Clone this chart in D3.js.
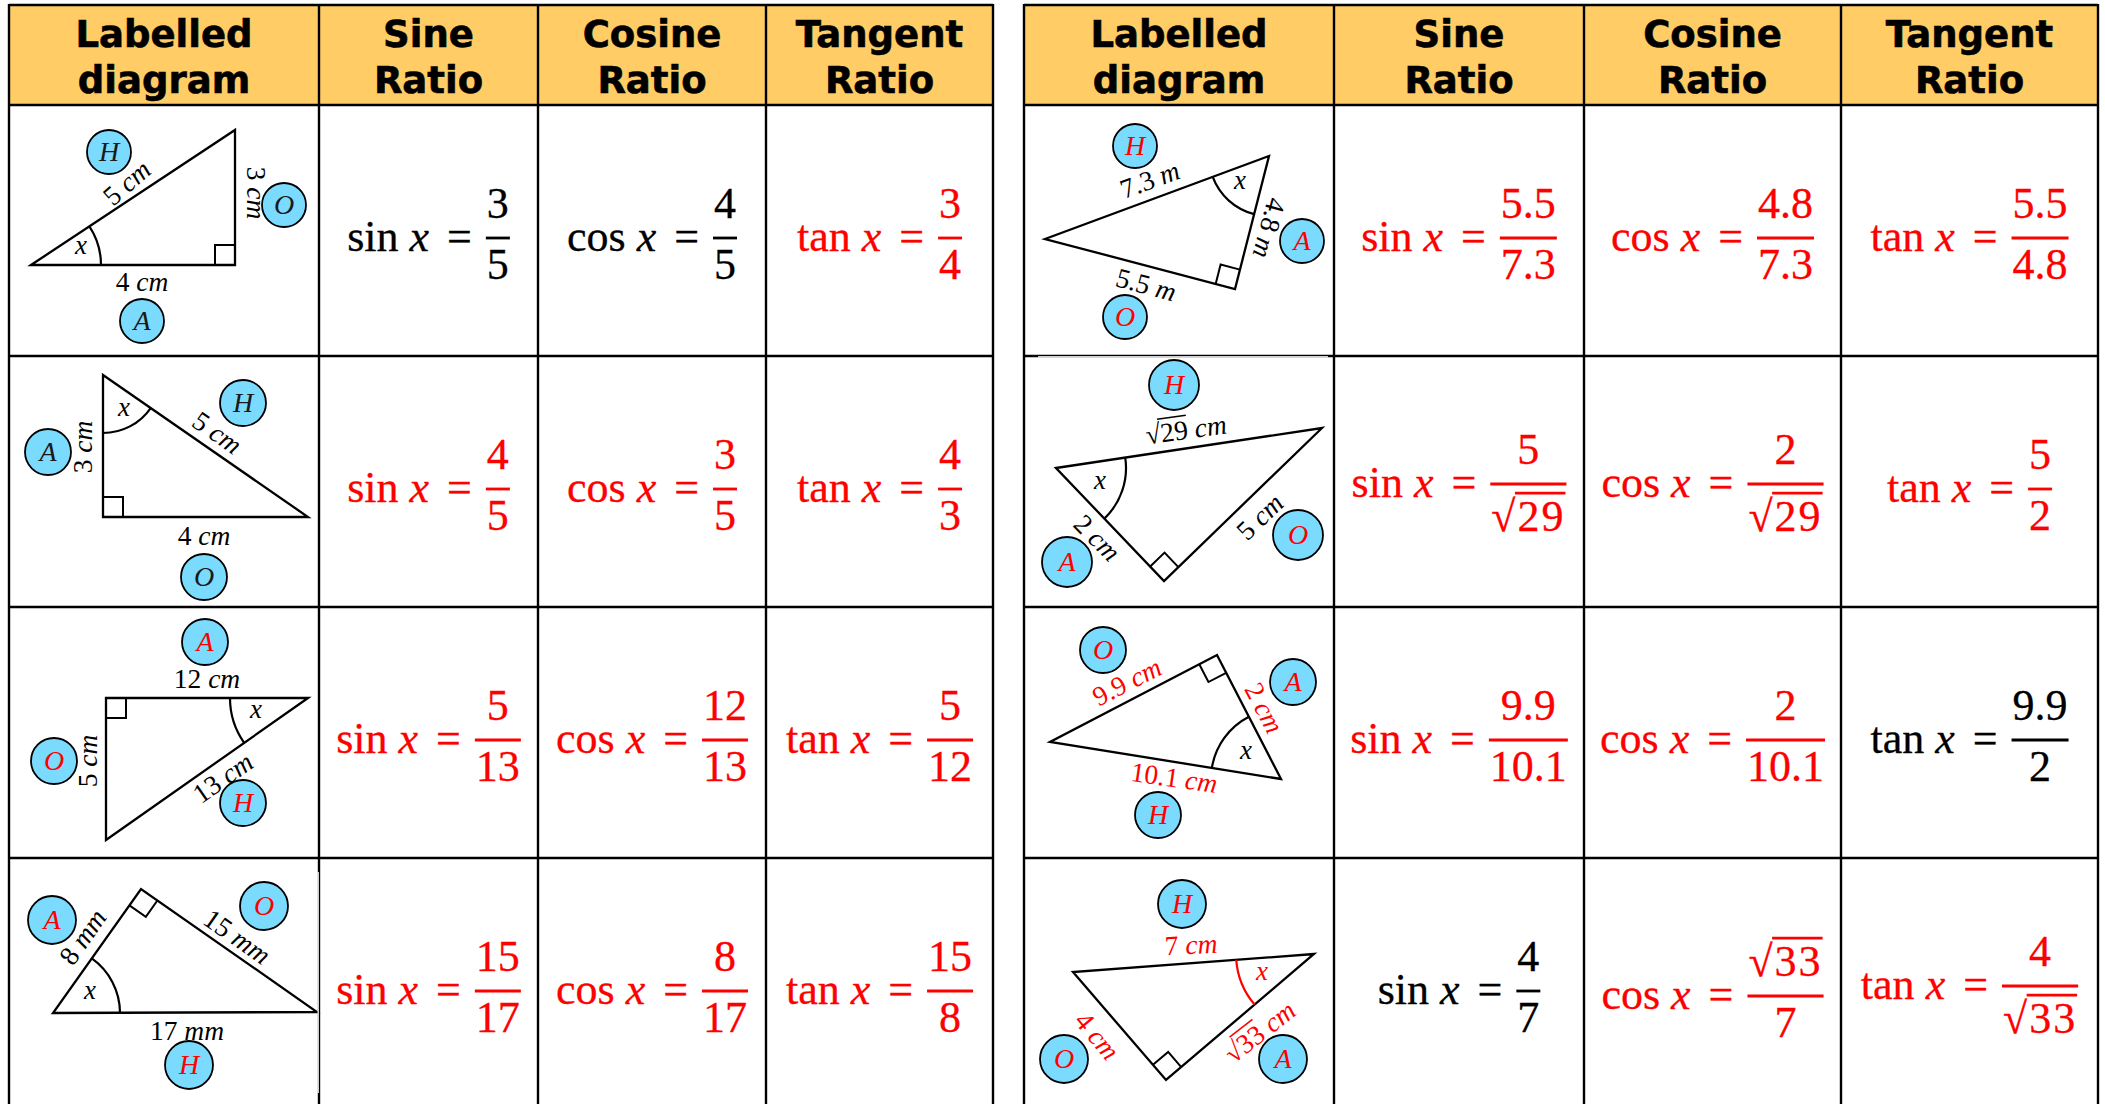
<!DOCTYPE html>
<html>
<head>
<meta charset="utf-8">
<title>Trigonometric ratios</title>
<script src="https://cdn.jsdelivr.net/npm/d3@7"></script>
<style>
    html, body { margin: 0; padding: 0; background: #fff; overflow: hidden; }
    text { white-space: pre; }
</style>
</head>
<body>
<div id="chart"></div>
<script>
const headers = [["Labelled", "diagram"], ["Sine", "Ratio"], ["Cosine", "Ratio"], ["Tangent", "Ratio"]]

// ratios, 8 triangles: left table rows then right table rows
const sinRatios = [["3", "5"], ["4", "5"], ["5", "13"], ["15", "17"], ["5.5", "7.3"], ["5", "√29"], ["9.9", "10.1"], ["4", "7"]]
const cosRatios = [["4", "5"], ["3", "5"], ["12", "13"], ["8", "17"], ["4.8", "7.3"], ["2", "√29"], ["2", "10.1"], ["√33", "7"]]
const tanRatios = [["3", "4"], ["4", "3"], ["5", "12"], ["15", "8"], ["5.5", "4.8"], ["5", "2"], ["9.9", "2"], ["4", "√33"]]
// the ones printed in black on the sheet, everything else is an answer (red)
const givenRatios = ["sin0", "cos0", "tan6", "sin7"]

// triangle corners inside a 310x251 diagram cell: [x angle, other acute, right angle]
const corners = [
    [[22, 160], [226, 25], [226, 160]],
    [[94, 19], [299, 161], [94, 161]],
    [[299, 91], [97, 233], [97, 91]],
    [[44, 155], [308, 154], [132, 31]],
    [[245, 51], [21, 134], [211, 184]],
    [[32, 112], [298, 72], [140, 225]],
    [[257, 172], [26, 135], [193, 48]],
    [[290, 96], [49, 114], [142, 222]]
]
const arcRadius = [70, 58, 78, 67, 60, 70, 70, 78]
const xMarks = [[72, 143], [115, 54], [247, 105], [81, 135], [216, 78], [76, 127], [222, 146], [238, 116]]

// side labels: [text, x, y, rotation]
const sideLabels = [
    [["5 cm", 118, 78, -41], ["3 cm", 247, 88, 90], ["4 cm", 133, 177, 0]],
    [["5 cm", 208, 77, 35], ["3 cm", 74, 91, -90], ["4 cm", 195, 180, 0]],
    [["12 cm", 198, 72, 0], ["5 cm", 79, 154, -90], ["13 cm", 214, 171, -35]],
    [["8 mm", 74, 79, -55], ["15 mm", 228, 79, 35], ["17 mm", 178, 173, 0]],
    [["7.3 m", 126, 75, -20], ["4.8 m", 245, 123, 105], ["5.5 m", 122, 180, 15]],
    [["√29 cm", 162, 74, -8], ["2 cm", 73, 182, 45], ["5 cm", 236, 161, -44]],
    [["9.9 cm", 103, 75, -27], ["2 cm", 240, 101, 62], ["10.1 cm", 150, 171, 8]],
    [["7 cm", 167, 87, -3], ["4 cm", 73, 178, 50], ["√33 cm", 236, 174, -38]]
]

// H / O / A circles
const badges = [
    [["H", 100, 47], ["O", 275, 100], ["A", 133, 216]],
    [["H", 234, 47], ["A", 39, 96], ["O", 195, 221]],
    [["A", 196, 35], ["O", 45, 154], ["H", 234, 196]],
    [["A", 43, 62], ["O", 255, 48], ["H", 180, 207]],
    [["H", 111, 41], ["O", 101, 212], ["A", 278, 136]],
    [["H", 150, 29], ["A", 43, 206], ["O", 274, 179]],
    [["O", 79, 43], ["A", 269, 75], ["H", 134, 208]],
    [["H", 158, 46], ["O", 40, 201], ["A", 259, 201]]
]
const badgeRadius = [22, 23, 23, 24, 22, 25, 23, 24]
const redBadgeText = [false, false, true, true, true, true, true, true]
const redSideText = [false, false, false, false, false, false, true, true]
const redAngle = [false, false, false, false, false, false, false, true]

const width = 2105
const height = 1104
const RED = "#ff0000"
const BLACK = "#000000"
const MATH_FONT = "'Liberation Serif', serif"

const svg = d3.select("#chart").append("svg")
    .attr("width", width)
    .attr("height", height)
    .style("display", "block")

const rowY = d3.scaleLinear().domain([0, 1, 2, 3, 4]).range([105, 356, 607, 858, 1109])
const tables = [
    d3.scaleLinear().domain([0, 1, 2, 3, 4]).range([9, 319, 538, 766, 993]),
    d3.scaleLinear().domain([0, 1, 2, 3, 4]).range([1024, 1334, 1584, 1841, 2098])
]
const line = d3.line()

function draw_grid(colX) {
    const g = svg.append("g")
    g.append("rect")
        .attr("x", colX(0)).attr("y", 5)
        .attr("width", colX(4) - colX(0)).attr("height", rowY(0) - 5)
        .attr("fill", "#ffcc66")

    // header text
    headers.forEach((lines, c) => {
        lines.forEach((t, i) => {
            g.append("text")
                .attr("x", (colX(c) + colX(c + 1)) / 2)
                .attr("y", 47 + i * 46)
                .attr("text-anchor", "middle")
                .attr("font-family", "'DejaVu Sans', sans-serif")
                .attr("font-weight", "bold")
                .attr("font-size", 37)
                .attr("fill", BLACK)
                .attr("stroke", BLACK)
                .attr("stroke-width", 0.6)
                .text(t)
        })
    })

    const gl = g.append("g").attr("stroke", BLACK).attr("stroke-width", 2.4)
    gl.selectAll(".v").data(colX.domain()).enter().append("line")
        .attr("x1", d => colX(d)).attr("x2", d => colX(d))
        .attr("y1", 4).attr("y2", height)
    gl.selectAll(".h").data([5].concat(rowY.domain().slice(0, 4).map(d => rowY(d)))).enter().append("line")
        .attr("x1", colX(0)).attr("x2", colX(4))
        .attr("y1", d => d).attr("y2", d => d)
}

// text with an optional leading root sign, the bar over the root is a line
function root_text(g, txt, x, y, size, color, anchor) {
    const hasRoot = txt[0] === "√"
    const t = g.append("text")
        .attr("x", x).attr("y", y)
        .attr("font-family", MATH_FONT)
        .attr("font-size", size)
        .attr("fill", color)
        .attr("stroke", color)
        .attr("stroke-width", 0.3)
        .attr("letter-spacing", hasRoot ? 2 : 0)
        .attr("text-anchor", anchor || "start")
        .text(txt)
    const w = t.node().getComputedTextLength()
    if (hasRoot) {
        const left = anchor === "middle" ? x - w / 2 : x
        const a = t.node().getSubStringLength(0, 1)
        g.append("line")
            .attr("x1", left + a - 2.5).attr("x2", left + w)
            .attr("y1", y - size * 0.86).attr("y2", y - size * 0.86)
            .attr("stroke", color)
            .attr("stroke-width", size * 0.06)
    }
    return w
}

function draw_ratio(colX, col, row, name, ratio, color) {
    const g = svg.append("g")
    const [num, den] = ratio
    const cx = (colX(col) + colX(col + 1)) / 2
    let barY = rowY(row) + 133
    if (den[0] === "√") barY = rowY(row) + 128
    if (num[0] === "√") barY = rowY(row) + 138

    const size = 44
    const prefix = g.append("text")
        .attr("y", barY + 13)
        .attr("font-family", MATH_FONT)
        .attr("font-size", size)
        .attr("fill", color)
        .attr("stroke", color)
        .attr("stroke-width", 0.3)
    prefix.append("tspan").text(name + " ")
    prefix.append("tspan").attr("font-style", "italic").text("x")
    prefix.append("tspan").attr("dx", 7).text(" =")
    const pw = prefix.node().getComputedTextLength() + 7

    // measure first, then centre the whole thing in the cell
    const probe = g.append("text").attr("font-family", MATH_FONT).attr("font-size", size)
    probe.attr("letter-spacing", num[0] === "√" ? 2 : 0).text(num)
    const nw = probe.node().getComputedTextLength()
    probe.attr("letter-spacing", den[0] === "√" ? 2 : 0).text(den)
    const dw = probe.node().getComputedTextLength()
    probe.remove()
    const barW = Math.max(nw, dw) + 2
    const gap = 14
    const left = cx - (pw + gap + barW) / 2
    prefix.attr("x", left)

    const fx = left + pw + gap + barW / 2
    g.append("line")
        .attr("x1", fx - barW / 2).attr("x2", fx + barW / 2)
        .attr("y1", barY).attr("y2", barY)
        .attr("stroke", color).attr("stroke-width", 2.8)
    root_text(g, num, fx, barY - 20, size, color, "middle")
    root_text(g, den, fx, barY + (den[0] === "√" ? 47 : 41), size, color, "middle")
}

function draw_diagram(colX, row, i) {
    const x = d3.scaleLinear().domain([0, 310]).range([colX(0), colX(1)])
    const y = d3.scaleLinear().domain([0, 251]).range([rowY(row), rowY(row + 1)])
    const g = svg.append("g")
    const pts = corners[i].map(p => [x(p[0]), y(p[1])])
    const [A, B, R] = pts

    const unit = (p, q) => {
        const dx = q[0] - p[0], dy = q[1] - p[1], l = Math.hypot(dx, dy)
        return [dx / l, dy / l]
    }

    g.append("path")
        .attr("d", line(pts) + "Z")
        .attr("fill", "#fff")
        .attr("stroke", BLACK)
        .attr("stroke-width", 2.3)
        .attr("stroke-linejoin", "miter")

    // right angle box
    const u = unit(R, A), v = unit(R, B), s = 20
    g.append("path")
        .attr("d", line([
            [R[0] + u[0] * s, R[1] + u[1] * s],
            [R[0] + (u[0] + v[0]) * s, R[1] + (u[1] + v[1]) * s],
            [R[0] + v[0] * s, R[1] + v[1] * s]
        ]))
        .attr("fill", "none").attr("stroke", BLACK).attr("stroke-width", 2)

    // arc for x, sweep picked from the cross product of the two sides
    const a = unit(A, B), b = unit(A, R), r = arcRadius[i]
    const sweep = a[0] * b[1] - a[1] * b[0] > 0 ? 1 : 0
    const angleColor = redAngle[i] ? RED : BLACK
    g.append("path")
        .attr("d", "M" + (A[0] + a[0] * r) + "," + (A[1] + a[1] * r) +
            "A" + r + "," + r + " 0 0 " + sweep + " " + (A[0] + b[0] * r) + "," + (A[1] + b[1] * r))
        .attr("fill", "none")
        .attr("stroke", angleColor)
        .attr("stroke-width", 2.2)
    g.append("text")
        .attr("x", x(xMarks[i][0])).attr("y", y(xMarks[i][1]) + 6)
        .attr("text-anchor", "middle")
        .attr("font-family", MATH_FONT)
        .attr("font-style", "italic")
        .attr("font-size", 27)
        .attr("fill", angleColor)
        .text("x")

    // side lengths
    const sideColor = redSideText[i] ? RED : BLACK
    const sideSize = 27.5
    sideLabels[i].forEach(d => {
        const lg = g.append("g")
            .attr("transform", "translate(" + x(d[1]) + "," + y(d[2]) + ") rotate(" + d[3] + ")")
        const parts = d[0].split(" ")
        const lab = lg.append("text")
            .attr("y", 9)
            .attr("text-anchor", "middle")
            .attr("font-family", MATH_FONT)
            .attr("font-size", sideSize)
            .attr("fill", sideColor)
        lab.append("tspan").text(parts[0] + " ")
        lab.append("tspan").attr("font-style", "italic").text(parts[1])
        if (parts[0][0] === "√") {
            const len = lab.node().getComputedTextLength()
            const rootW = lab.node().getSubStringLength(0, 1)
            const digitW = lab.node().getSubStringLength(1, parts[0].length - 1)
            lg.append("line")
                .attr("x1", -len / 2 + rootW - 1.5).attr("x2", -len / 2 + rootW + digitW)
                .attr("y1", 9 - sideSize * 0.86).attr("y2", 9 - sideSize * 0.86)
                .attr("stroke", sideColor).attr("stroke-width", 1.6)
        }
    })

    // H O A circles
    badges[i].forEach(d => {
        g.append("circle")
            .attr("cx", x(d[1])).attr("cy", y(d[2]))
            .attr("r", badgeRadius[i])
            .attr("fill", "#7adbff")
            .attr("stroke", BLACK)
            .attr("stroke-width", 1.8)
        g.append("text")
            .attr("x", x(d[1])).attr("y", y(d[2]) + 9)
            .attr("text-anchor", "middle")
            .attr("font-family", MATH_FONT)
            .attr("font-style", "italic")
            .attr("font-size", 28)
            .attr("fill", redBadgeText[i] ? RED : "#1a1a1a")
            .text(d[0])
    })
}

tables.forEach((colX, t) => {
    draw_grid(colX)
    d3.range(4).forEach(row => {
        const i = t * 4 + row
        draw_diagram(colX, row, i)
        const sets = [["sin", sinRatios], ["cos", cosRatios], ["tan", tanRatios]]
        sets.forEach((s, k) => {
            const color = givenRatios.includes(s[0] + i) ? BLACK : RED
            draw_ratio(colX, k + 1, row, s[0], s[1][i], color)
        })
    })
})

// the pasted diagrams eat into the grid lines in two places
svg.append("rect").attr("x", 317.6).attr("y", 872).attr("width", 1.2).attr("height", 221).attr("fill", "#fff")
svg.append("rect").attr("x", 1038).attr("y", 356.2).attr("width", 290).attr("height", 1.2).attr("fill", "#fff")
</script>
</body>
</html>
